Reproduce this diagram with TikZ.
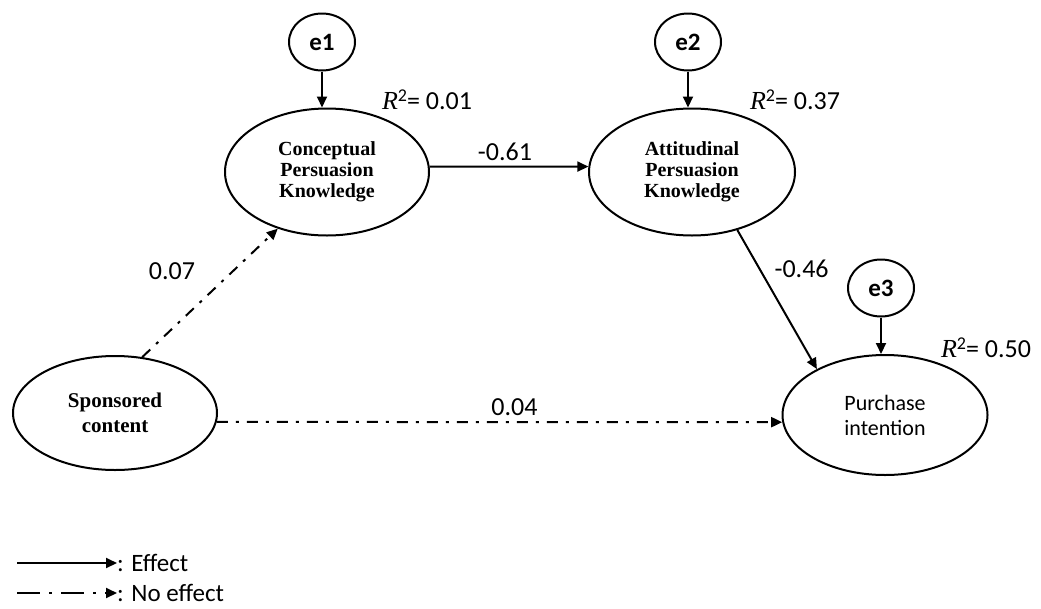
\documentclass[tikz,border=0pt]{standalone}
\usepackage{fontspec}
\setmainfont{Carlito}
\newfontfamily\labelserif{Liberation Serif}
\usetikzlibrary{shapes.geometric,arrows.meta}

\tikzset{
  latent/.style={draw, line width=2pt, ellipse, inner sep=0pt, align=center,
    font=\labelserif\bfseries\fontsize{20}{21}\selectfont},
  latentsans/.style={latent, font=\fontsize{22}{25}\selectfont},
  errterm/.style={draw, line width=2pt, ellipse, minimum width=66pt, minimum height=57pt,
    inner sep=0pt, font=\bfseries\fontsize{25}{28}\selectfont},
  effect/.style={line width=2pt, -{Triangle[length=11pt,width=10pt]}},
  noeffect/.style={effect, dash pattern=on 11pt off 8pt on 3pt off 8pt},
  legendnoeffect/.style={effect, dash pattern=on 23pt off 9pt on 3pt off 9pt},
  coef/.style={font=\fontsize{26}{28}\selectfont, inner sep=0pt},
  rsq/.style={font=\fontsize{26}{28}\selectfont, inner sep=0pt},
  legendtext/.style={anchor=base west, inner sep=0pt, font=\fontsize{25}{27}\selectfont}
}
\newcommand{\rsqlabel}[1]{{\labelserif\itshape R}{\fontsize{18}{18}\selectfont\raisebox{8pt}{2}}= #1}

\begin{document}
\begin{tikzpicture}[x=1pt,y=-1pt]
  \useasboundingbox (0,0) rectangle (1041,608);

  % latent variables
  \node[latent, minimum width=204pt, minimum height=127pt] (cpk) at (327,172)
    {Conceptual\\Persuasion\\Knowledge};
  \node[latent, minimum width=206pt, minimum height=127pt] (apk) at (692,172)
    {Attitudinal\\Persuasion\\Knowledge};
  \node[latent, font=\labelserif\bfseries\fontsize{21}{25}\selectfont,
    minimum width=204pt, minimum height=114pt] (sc) at (115,413)
    {Sponsored\\content};
  \node[latentsans, minimum width=205pt, minimum height=120pt] (pi) at (885,415)
    {Purchase\\intention};

  % error terms
  \node[errterm] (e1) at (322,42) {e1};
  \node[errterm] (e2) at (688,42) {e2};
  \node[errterm] (e3) at (881,288) {e3};

  \draw[effect] (e1) -- (cpk.north -| e1);
  \draw[effect] (e2) -- (apk.north -| e2);
  \draw[effect] (e3) -- (pi.north -| e3);

  % explained variance
  \node[rsq] (r1) at (427,100) {\rsqlabel{0.01}};
  \node[rsq] (r2) at (795,100) {\rsqlabel{0.37}};
  \node[rsq] (r3) at (986,348) {\rsqlabel{0.50}};

  % structural paths
  \draw[effect] (cpk.3) -- (apk.177)
    node[coef, midway, xshift=-4pt, yshift=15pt] (c1) {-0.61};
  \draw[effect] (apk.-52) -- (pi.146)
    node[coef, pos=0.28, xshift=42pt] (c2) {-0.46};
  \draw[noeffect] (sc.64) -- (cpk.229)
    node[coef, midway, xshift=-38pt, yshift=22pt] (c3) {0.07};
  \draw[noeffect] (sc.-5) -- (pi.184)
    node[coef, midway, xshift=15pt, yshift=15pt] (c4) {0.04};

  % legend
  \coordinate (l1a) at (17,563);
  \coordinate (l1b) at (117,563);
  \coordinate (l2a) at (17,593);
  \coordinate (l2b) at (117,593);
  \draw[effect] (l1a) -- (l1b);
  \draw[legendnoeffect] (l2a) -- (l2b);
  \node[legendtext] (t1) at ([yshift=-8pt]l1b) {: Effect};
  \node[legendtext] (t2) at ([yshift=-8pt]l2b) {: No effect};
\end{tikzpicture}
\end{document}
